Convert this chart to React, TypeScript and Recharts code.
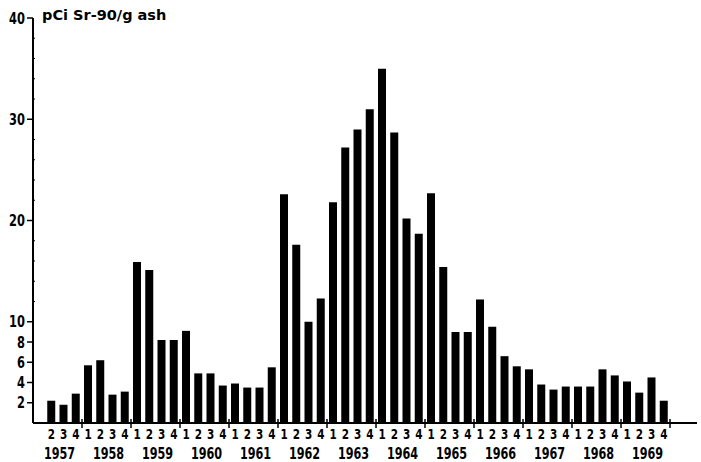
import React from "react";
import { BarChart, Bar, XAxis, YAxis } from "recharts";

const years = [1957, 1958, 1959, 1960, 1961, 1962, 1963, 1964, 1965, 1966, 1967, 1968, 1969];
const quarters = [1, 2, 3, 4];
// pCi Sr-90 / g ash, quarterly, 1957 Q1 .. 1969 Q4 (1957 Q1 not measured)
const values: (number | null)[] = [
  null, 2.2, 1.8, 2.9,
  5.7, 6.2, 2.8, 3.1,
  15.9, 15.1, 8.2, 8.2,
  9.1, 4.9, 4.9, 3.7,
  3.9, 3.5, 3.5, 5.5,
  22.6, 17.6, 10.0, 12.3,
  21.8, 27.2, 29.0, 31.0,
  35.0, 28.7, 20.2, 18.7,
  22.7, 15.4, 9.0, 9.0,
  12.2, 9.5, 6.6, 5.6,
  5.3, 3.8, 3.3, 3.6,
  3.6, 3.6, 5.3, 4.7,
  4.1, 3.0, 4.5, 2.2,
];
const yTicks = [0, 2, 4, 6, 8, 10, 12, 14, 16, 18, 20, 22, 24, 26, 28, 30, 32, 34, 36, 38, 40];
const yTickLabels = [2, 4, 6, 8, 10, 20, 30, 40];
const title = "pCi Sr-90/g ash";

const data = years.flatMap((yr, yi) =>
  quarters.map((q, qi) => ({
    key: `${yr}-${q}`,
    year: yr,
    q,
    value: values[yi * 4 + qi],
  }))
);

const FONT = "'DejaVu Sans Condensed', 'DejaVu Sans', sans-serif";
const BAND = 12.25;

const NarrowText = ({ x, y, size, sx, anchor, children }: any) => (
  <text
    transform={`translate(${x},${y}) scale(${sx},1)`}
    x={0}
    y={0}
    textAnchor={anchor}
    fontFamily={FONT}
    fontWeight="bold"
    fontSize={size}
    fill="#000"
  >
    {children}
  </text>
);

const XTick = (props: any) => {
  const { x, y, payload } = props;
  const [yrStr, qStr] = String(payload.value).split("-");
  const yr = Number(yrStr);
  const q = Number(qStr);
  const hasValue = !(yr === 1957 && q === 1);
  return (
    <g>
      {hasValue && (
        <NarrowText x={x} y={y + 16} size={14.5} sx={0.8} anchor="middle">
          {q}
        </NarrowText>
      )}
      {q === 2 && (
        <NarrowText x={x + BAND / 2 + 2} y={y + 36} size={16} sx={0.78} anchor="middle">
          {yr}
        </NarrowText>
      )}
      {q === 1 && yr !== 1957 && (
        <line x1={x - BAND / 2} x2={x - BAND / 2} y1={y - 4} y2={y + 5} stroke="#000" strokeWidth={1.5} />
      )}
      {q === 4 && yr === 1969 && (
        <line x1={x + BAND / 2} x2={x + BAND / 2} y1={y - 4} y2={y + 5} stroke="#000" strokeWidth={1.5} />
      )}
    </g>
  );
};

const YTick = (props: any) => {
  const { x, y, payload } = props;
  const v = Number(payload.value);
  if (v === 0) return <g />;
  const labelled = yTickLabels.includes(v);
  return (
    <g>
      {labelled ? (
        <>
          <line x1={x - 6} x2={x} y1={y} y2={y} stroke="#000" strokeWidth={1.5} />
          <NarrowText x={x - 8} y={y + 5.5} size={15.5} sx={0.82} anchor="end">
            {v}
          </NarrowText>
        </>
      ) : (
        <line x1={x - 1} x2={x + 2} y1={y} y2={y} stroke="#000" strokeWidth={1} />
      )}
    </g>
  );
};

export default function App() {
  return (
    <div style={{ position: "absolute", left: 0, top: 0, width: 701, height: 462, background: "#fff" }}>
      <BarChart
        width={701}
        height={462}
        data={data}
        margin={{ top: 18, right: 4, left: 0, bottom: 0 }}
        barSize={8}
      >
        <XAxis
          dataKey="key"
          type="category"
          interval={0}
          height={39}
          tickSize={0}
          tickMargin={0}
          tickLine={false}
          axisLine={{ stroke: "#000", strokeWidth: 2 }}
          padding={{ left: 0, right: 27 }}
          tick={<XTick />}
        />
        <YAxis
          type="number"
          domain={[0, 40]}
          ticks={yTicks}
          interval={0}
          width={33}
          tickSize={0}
          tickMargin={0}
          tickLine={false}
          axisLine={{ stroke: "#000", strokeWidth: 2 }}
          tick={<YTick />}
        />
        <Bar dataKey="value" fill="#000" isAnimationActive={false} />
      </BarChart>
      <div
        style={{
          position: "absolute",
          left: 42,
          top: 7,
          fontFamily: "'DejaVu Sans', sans-serif",
          fontWeight: "bold",
          fontSize: 14.5,
          color: "#000",
          whiteSpace: "nowrap",
        }}
      >
        {title}
      </div>
    </div>
  );
}
